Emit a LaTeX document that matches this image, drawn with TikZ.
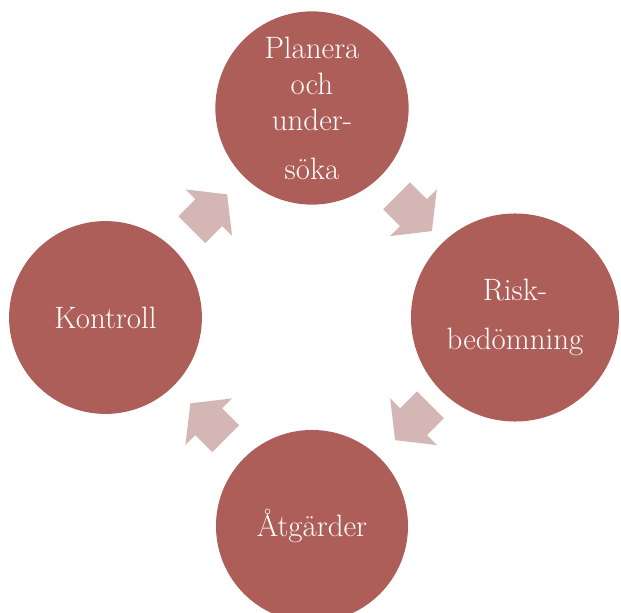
\documentclass[tikz,border=0pt]{standalone}
\usepackage{fontspec}
\usepackage{tikz}
\usetikzlibrary{calc}
\definecolor{disc}{HTML}{AE5E58}
\definecolor{pale}{HTML}{D4B6B4}
\definecolor{text}{HTML}{FFFFFF}
\tikzset{
  stage/.style={circle, fill=disc, draw=none, inner sep=0pt, text=text, align=center,
    font=\fontsize{22}{25.6}\selectfont},
  cyc/.style={fill=pale, draw=none},
}

\begin{document}
\begin{tikzpicture}[x=0.025cm, y=0.025cm]
  \useasboundingbox (0,0) rectangle (621,613);
  \clip (0,0) rectangle (621,613);
  % the four stages
  \node[stage, minimum size=4.83cm] (plan) at (312,505) {Planera\\och\\under-\\[9.3pt]söka};
  \node[stage, minimum size=5.2cm] (risk) at (515,295.5) {Risk-\\[9.6pt]bedömning};
  \node[stage, minimum size=4.8cm] (atg) at (312,87) {Åtgärder};
  \node[stage, minimum size=4.82cm] (kon) at (105.5,295.5) {Kontroll};
  % block arrows half way between the stages
  \foreach \a/\b/\ang in {kon/plan/45, plan/risk/-45, risk/atg/-135, atg/kon/135}
    \fill[cyc, shift={($(\a)!0.5!(\b)$)}, rotate=\ang]
      (-24,-19) -- (0,-19) -- (0,-33) -- (26,0) -- (0,33) -- (0,19) -- (-24,19) -- cycle;
\end{tikzpicture}
\end{document}
